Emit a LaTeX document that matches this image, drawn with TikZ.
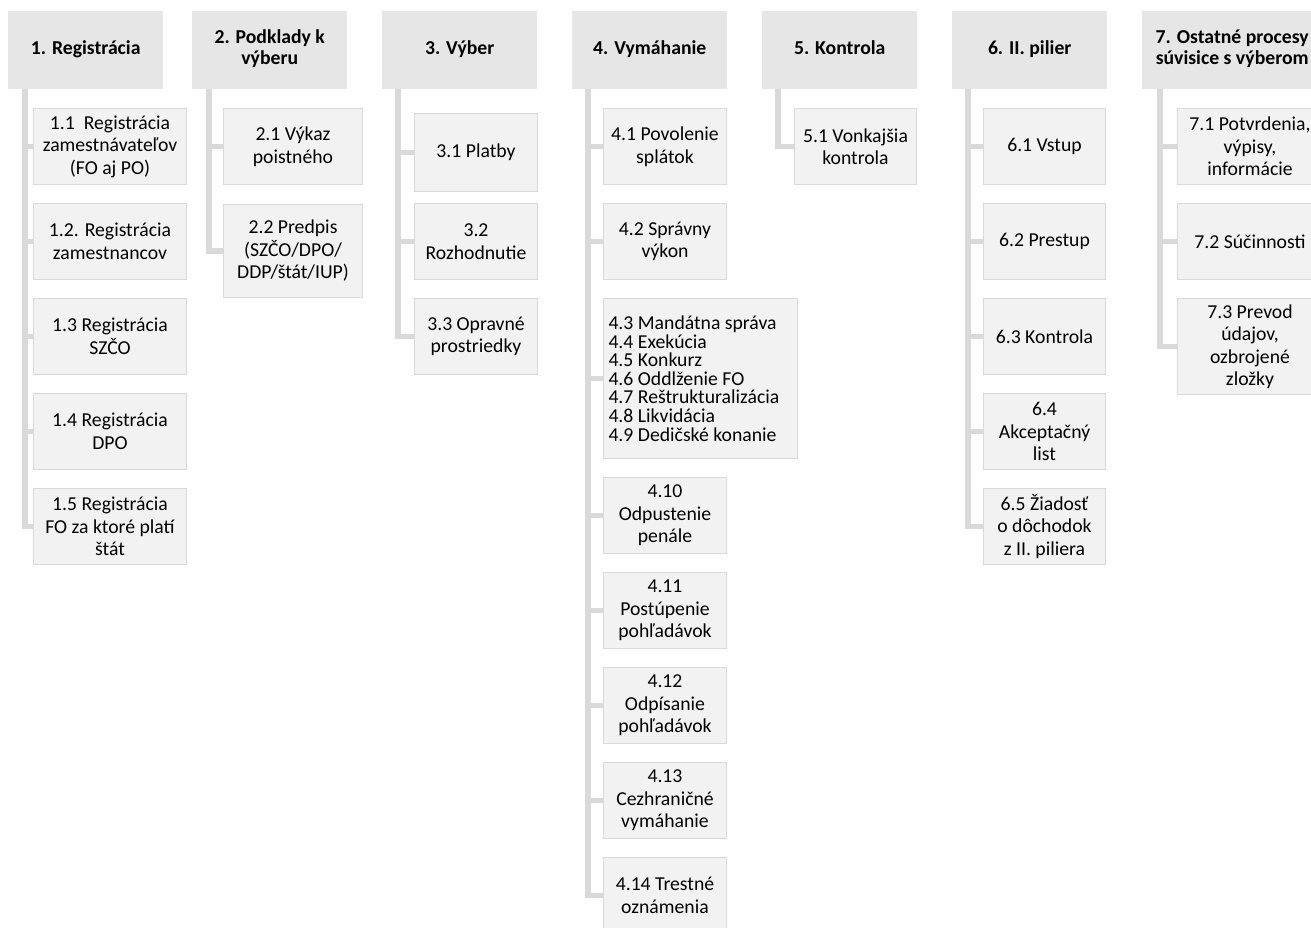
\documentclass[tikz,border=0pt]{standalone}
\usepackage{fontspec}
\setmainfont{Carlito}
\definecolor{hdrfill}{HTML}{E7E6E6}
\definecolor{subfill}{HTML}{F2F2F2}
\definecolor{subline}{HTML}{D9D9D9}
\definecolor{stemgray}{HTML}{D9D9D9}
\tikzset{
	hdr/.style={fill=hdrfill, anchor=north west, minimum width=155pt, minimum height=78pt,
		inner sep=0pt, align=center, font=\fontsize{19.7}{20.5}\selectfont\bfseries,
		execute at begin node=\strut, execute at end node=\strut},
	sub/.style={fill=subfill, draw=subline, line width=1pt, anchor=north west,
		minimum height=76pt, inner sep=0pt, align=center, font=\fontsize{19.7}{22.5}\selectfont},
	stem/.style={draw=stemgray, line width=5.5pt},
}
\begin{document}
\begin{tikzpicture}[x=1pt,y=-1pt]
	\useasboundingbox (0,0) rectangle (1311,928);
	% headers
	\node[hdr] (h1) at (8,11) {1. Registrácia};
	\node[hdr] (h2) at (192,11) {2. Podklady k\\výberu};
	\node[hdr] (h3) at (382,11) {3. Výber};
	\node[hdr] (h4) at (572,11) {4. Vymáhanie};
	\node[hdr] (h5) at (762,11) {5. Kontrola};
	\node[hdr] (h6) at (952,11) {6. II. pilier};
	\node[hdr, minimum width=180pt] (h7) at (1142,11) {7. Ostatné procesy\\súvisice s výberom};
	% 1
	\node[sub, minimum width=153pt] (c11) at (33,108) {1.1\ \ Registrácia\\zamestnávateľov\\(FO aj PO)};
	\node[sub, minimum width=153pt] (c12) at (33,203) {1.2. Registrácia\\zamestnancov};
	\node[sub, minimum width=153pt] (c13) at (33,298) {1.3 Registrácia\\SZČO};
	\node[sub, minimum width=153pt] (c14) at (33,393) {1.4 Registrácia\\DPO};
	\node[sub, minimum width=153pt] (c15) at (33,488) {1.5 Registrácia\\FO za ktoré platí\\štát};
	% 2
	\node[sub, minimum width=139pt] (c21) at (223,108) {2.1 Výkaz\\poistného};
	\node[sub, minimum width=139pt, minimum height=93pt] (c22) at (223,204) {2.2 Predpis\\(SZČO/DPO/\\DDP/štát/IUP)};
	% 3
	\node[sub, minimum width=123pt, minimum height=78pt] (c31) at (414,113) {3.1 Platby};
	\node[sub, minimum width=123pt] (c32) at (414,203) {3.2\\Rozhodnutie};
	\node[sub, minimum width=123pt] (c33) at (414,298) {3.3 Opravné\\prostriedky};
	% 4
	\node[sub, minimum width=123pt] (c41) at (603,108) {4.1 Povolenie\\splátok};
	\node[sub, minimum width=123pt] (c42) at (603,203) {4.2 Správny\\výkon};
	\node[sub, text width=184pt, inner xsep=5pt, minimum height=160pt, align=flush left,
		font=\fontsize{19.7}{18.6}\selectfont] (c43) at (603,298)
		{4.3 Mandátna správa\\4.4 Exekúcia\\4.5 Konkurz\\4.6 Oddlženie FO\\4.7 Reštrukturalizácia\\4.8 Likvidácia\\4.9 Dedičské konanie};
	\node[sub, minimum width=123pt] (c410) at (603,477) {4.10\\Odpustenie\\penále};
	\node[sub, minimum width=123pt] (c411) at (603,572) {4.11\\Postúpenie\\pohľadávok};
	\node[sub, minimum width=123pt] (c412) at (603,667) {4.12\\Odpísanie\\pohľadávok};
	\node[sub, minimum width=123pt] (c413) at (603,762) {4.13\\Cezhraničné\\vymáhanie};
	\node[sub, minimum width=123pt] (c414) at (603,857) {4.14 Trestné\\oznámenia};
	% 5
	\node[sub, minimum width=122pt] (c51) at (794,108) {5.1 Vonkajšia\\kontrola};
	% 6
	\node[sub, minimum width=122pt] (c61) at (983,108) {6.1 Vstup};
	\node[sub, minimum width=122pt] (c62) at (983,203) {6.2 Prestup};
	\node[sub, minimum width=122pt] (c63) at (983,298) {6.3 Kontrola};
	\node[sub, minimum width=122pt] (c64) at (983,393) {6.4\\Akceptačný\\list};
	\node[sub, minimum width=122pt] (c65) at (983,488) {6.5 Žiadosť\\o dôchodok\\z II. piliera};
	% 7
	\node[sub, minimum width=145pt] (c71) at (1177,108) {7.1 Potvrdenia,\\výpisy,\\informácie};
	\node[sub, minimum width=145pt] (c72) at (1177,203) {7.2 Súčinnosti};
	\node[sub, minimum width=145pt, minimum height=96pt] (c73) at (1177,298) {7.3 Prevod\\údajov,\\ozbrojené\\zložky};
	% stems
	\coordinate (s1) at (25,89);
	\coordinate (s2) at (209,89);
	\coordinate (s3) at (398,89);
	\coordinate (s4) at (588,89);
	\coordinate (s5) at (778,89);
	\coordinate (s6) at (968,89);
	\coordinate (s7) at (1160,89);
	\foreach \c in {c11,c12,c13,c14,c15} \draw[stem] (s1) |- (\c.west);
	\foreach \c in {c21,c22} \draw[stem] (s2) |- (\c.west);
	\foreach \c in {c31,c32,c33} \draw[stem] (s3) |- (\c.west);
	\foreach \c in {c41,c42,c43,c410,c411,c412,c413,c414} \draw[stem] (s4) |- (\c.west);
	\draw[stem] (s5) |- (c51.west);
	\foreach \c in {c61,c62,c63,c64,c65} \draw[stem] (s6) |- (\c.west);
	\foreach \c in {c71,c72,c73} \draw[stem] (s7) |- (\c.west);
\end{tikzpicture}
\end{document}
